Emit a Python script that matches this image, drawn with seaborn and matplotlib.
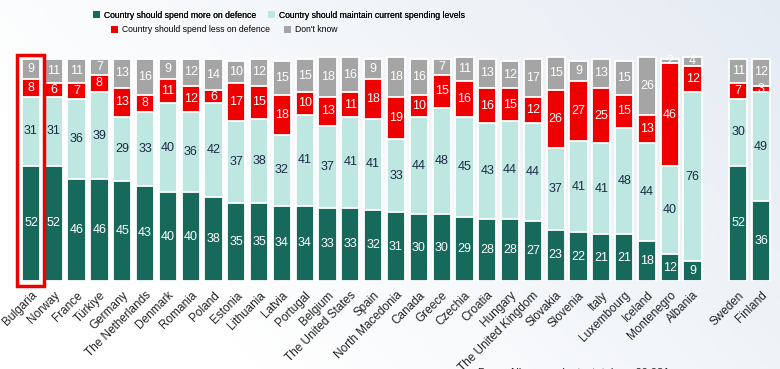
import numpy as np
import pandas as pd
import matplotlib
matplotlib.use("Agg")
import matplotlib.pyplot as plt
from matplotlib.patches import Patch, Rectangle
import seaborn as sns

countries = ["Bulgaria", "Norway", "France", "Türkiye", "Germany", "The Netherlands",
             "Denmark", "Romania", "Poland", "Estonia", "Lithuania", "Latvia", "Portugal",
             "Belgium", "The United States", "Spain", "North Macedonia", "Canada", "Greece",
             "Czechia", "Croatia", "Hungary", "The United Kingdom", "Slovakia", "Slovenia",
             "Italy", "Luxembourg", "Iceland", "Montenegro", "Albania", "Sweden", "Finland"]
more = [52, 52, 46, 46, 45, 43, 40, 40, 38, 35, 35, 34, 34, 33, 33, 32, 31, 30, 30,
        29, 28, 28, 27, 23, 22, 21, 21, 18, 12, 9, 52, 36]
maintain = [31, 31, 36, 39, 29, 33, 40, 36, 42, 37, 38, 32, 41, 37, 41, 41, 33, 44, 48,
            45, 43, 44, 44, 37, 41, 41, 48, 44, 40, 76, 30, 49]
less = [8, 6, 7, 8, 13, 8, 11, 12, 6, 17, 15, 18, 10, 13, 11, 18, 19, 10, 15,
        16, 16, 15, 12, 26, 27, 25, 15, 13, 46, 12, 7, 3]
dont_know = [9, 11, 11, 7, 13, 16, 9, 12, 14, 10, 12, 15, 15, 18, 16, 9, 18, 16, 7,
             11, 13, 12, 17, 15, 9, 13, 15, 26, 2, 4, 11, 12]
series_names = ["Country should spend more on defence",
                "Country should maintain current spending levels",
                "Country should spend less on defence",
                "Don't know"]
colors = ["#17695b", "#bfe7e1", "#ee0000", "#a5a5a5"]
text_colors = ["white", "#1c2b45", "white", "white"]

gap_label = " "
order = countries[:30] + [gap_label] + countries[30:]

vals = np.array([more, maintain, less, dont_know], dtype=float)
cum = np.cumsum(vals, axis=0)
df = pd.DataFrame({"country": countries})
for i in range(4):
    df[f"c{i}"] = cum[i]

W, H = 780, 369
fig = plt.figure(figsize=(W / 100, H / 100), dpi=100)

# subtle background
bg = fig.add_axes([0, 0, 1, 1], zorder=-10)
xx, yy = np.meshgrid(np.linspace(0, 1, 200), np.linspace(0, 1, 100))
g = np.clip(0.75 * xx + 0.35 * (1 - yy) - 0.25, 0, 1)
c0 = np.array([1.0, 1.0, 1.0])
c1 = np.array([0.88, 0.91, 0.945])
img = c0[None, None, :] * (1 - g[..., None]) + c1[None, None, :] * g[..., None]
bg.imshow(img, aspect="auto", extent=[0, 1, 0, 1], origin="upper")
bg.axis("off")

ax = fig.add_axes([17.3 / W, 88 / H, 757.4 / W, 226.4 / H])
ax.set_facecolor("none")

for i in range(3, -1, -1):
    sns.barplot(data=df, x="country", y=f"c{i}", order=order, color=colors[i],
                saturation=1, width=0.8, edgecolor="white", linewidth=1.3,
                errorbar=None, ax=ax)

fam = ["Liberation Sans", "DejaVu Sans"]
for j, c in enumerate(countries):
    xpos = order.index(c)
    bottom = 0
    for i in range(4):
        v = vals[i, j]
        ax.text(xpos, bottom + v / 2, f"{int(v)}", ha="center", va="center",
                fontsize=9, color=text_colors[i], family=fam)
        bottom += v

ax.set_xlim(-0.6, 32.6)
ax.set_ylim(0, 102)
ax.set_xlabel("")
ax.set_ylabel("")
ax.set_yticks([])
for s in ax.spines.values():
    s.set_visible(False)
ax.tick_params(axis="x", length=0, pad=6)
ax.set_xticks(range(len(order)))
ax.set_xticklabels(order, rotation=45, ha="right", va="top", rotation_mode="anchor",
                   fontsize=8.5, color="#222222", family=fam)

# highlight box around Bulgaria
ax.add_patch(Rectangle((-0.6, -2.2), 1.18, 104.0, fill=False, edgecolor="#ee0000",
                       linewidth=2.5, clip_on=False, zorder=10))

leg_font = {"family": fam, "size": 6.2}
h = [Patch(facecolor=colors[i], edgecolor="none") for i in range(4)]
l1 = fig.legend(h[:2], series_names[:2], ncol=2, loc="center left",
                bbox_to_anchor=(93 / W, 1 - 15 / H), frameon=False, prop=leg_font,
                handlelength=0.8, handleheight=0.9, handletextpad=0.45,
                columnspacing=1.4, borderpad=0, borderaxespad=0)
fig.add_artist(l1)
l2 = fig.legend(h[2:], series_names[2:], ncol=2, loc="center left",
                bbox_to_anchor=(111 / W, 1 - 30 / H), frameon=False, prop=leg_font,
                handlelength=0.8, handleheight=0.9, handletextpad=0.45,
                columnspacing=1.7, borderpad=0, borderaxespad=0)

fig.text(478 / W, -9 / H, "Base: All respondents, total n = 29,981", fontsize=8,
         color="#222222", va="bottom", ha="left", family=fam)

fig.savefig("out.png", dpi=100)
